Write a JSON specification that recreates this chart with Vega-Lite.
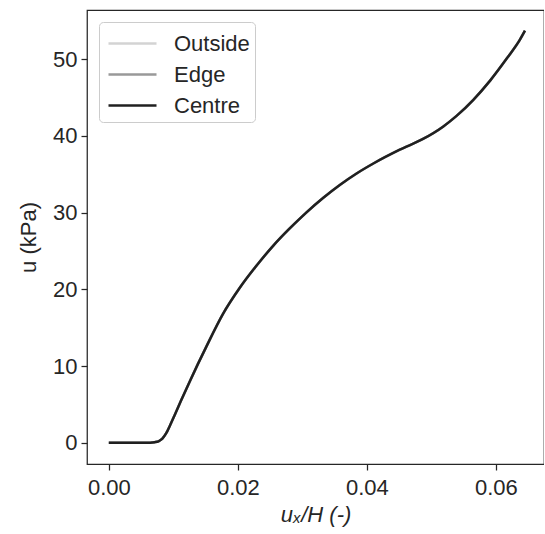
{
  "$schema": "https://vega.github.io/schema/vega-lite/v6.json",
  "autosize": "none",
  "padding": {"left": 87, "top": 10, "right": 0, "bottom": 70},
  "width": 457,
  "height": 454,
  "background": "white",
  "config": {
    "font": "Liberation Sans",
    "view": {"stroke": "#262626", "strokeWidth": 1.25},
    "axis": {
      "domain": false,
      "grid": false,
      "ticks": true,
      "tickColor": "#262626",
      "tickSize": 6,
      "tickWidth": 1.25,
      "labelColor": "#262626",
      "labelFontSize": 22,
      "labelFont": "Liberation Sans",
      "titleFont": "Liberation Sans",
      "titleFontSize": 22,
      "titleFontWeight": "normal",
      "titleColor": "#262626"
    }
  },
  "data": {
    "values": [
      {"x": 0.0, "Outside": 0.0, "Edge": 0.0, "Centre": 0.0},
      {"x": 0.004, "Outside": 0.0, "Edge": 0.0, "Centre": 0.0},
      {"x": 0.0064, "Outside": 0.02, "Edge": 0.02, "Centre": 0.02},
      {"x": 0.0071, "Outside": 0.08, "Edge": 0.08, "Centre": 0.08},
      {"x": 0.0077, "Outside": 0.2, "Edge": 0.2, "Centre": 0.2},
      {"x": 0.0083, "Outside": 0.55, "Edge": 0.55, "Centre": 0.55},
      {"x": 0.0089, "Outside": 1.25, "Edge": 1.25, "Centre": 1.25},
      {"x": 0.0095, "Outside": 2.3, "Edge": 2.3, "Centre": 2.3},
      {"x": 0.0102, "Outside": 3.6, "Edge": 3.6, "Centre": 3.6},
      {"x": 0.0112, "Outside": 5.5, "Edge": 5.5, "Centre": 5.5},
      {"x": 0.0126, "Outside": 8.1, "Edge": 8.1, "Centre": 8.1},
      {"x": 0.0151, "Outside": 12.5, "Edge": 12.5, "Centre": 12.5},
      {"x": 0.0177, "Outside": 16.8, "Edge": 16.8, "Centre": 16.8},
      {"x": 0.0203, "Outside": 20.2, "Edge": 20.2, "Centre": 20.2},
      {"x": 0.0231, "Outside": 23.3, "Edge": 23.3, "Centre": 23.3},
      {"x": 0.0255, "Outside": 25.7, "Edge": 25.7, "Centre": 25.7},
      {"x": 0.028, "Outside": 27.9, "Edge": 27.9, "Centre": 27.9},
      {"x": 0.0306, "Outside": 30.0, "Edge": 30.0, "Centre": 30.0},
      {"x": 0.0332, "Outside": 31.9, "Edge": 31.9, "Centre": 31.9},
      {"x": 0.0358, "Outside": 33.6, "Edge": 33.6, "Centre": 33.6},
      {"x": 0.0384, "Outside": 35.1, "Edge": 35.1, "Centre": 35.1},
      {"x": 0.041, "Outside": 36.4, "Edge": 36.4, "Centre": 36.4},
      {"x": 0.0451, "Outside": 38.2, "Edge": 38.2, "Centre": 38.2},
      {"x": 0.0487, "Outside": 39.6, "Edge": 39.6, "Centre": 39.6},
      {"x": 0.0518, "Outside": 41.2, "Edge": 41.2, "Centre": 41.2},
      {"x": 0.0539, "Outside": 42.6, "Edge": 42.6, "Centre": 42.6},
      {"x": 0.0565, "Outside": 44.7, "Edge": 44.7, "Centre": 44.7},
      {"x": 0.0591, "Outside": 47.2, "Edge": 47.2, "Centre": 47.2},
      {"x": 0.0617, "Outside": 50.1, "Edge": 50.1, "Centre": 50.1},
      {"x": 0.0637, "Outside": 52.5, "Edge": 52.5, "Centre": 52.5},
      {"x": 0.0645, "Outside": 53.7, "Edge": 53.7, "Centre": 53.7}
    ]
  },
  "transform": [
    {"fold": ["Outside", "Edge", "Centre"], "as": ["series", "u"]}
  ],
  "mark": {"type": "line", "strokeWidth": 2.5, "interpolate": "monotone"},
  "encoding": {
    "x": {
      "field": "x",
      "type": "quantitative",
      "scale": {"domain": [-0.00338, 0.06745], "nice": false, "zero": false},
      "axis": {"values": [0, 0.02, 0.04, 0.06], "format": ".2f", "title": "uₓ/H (-)", "titleFontStyle": "italic", "labelPadding": 7, "titlePadding": 6}
    },
    "y": {
      "field": "u",
      "type": "quantitative",
      "scale": {"domain": [-2.76, 56.4], "nice": false, "zero": false},
      "axis": {"values": [0, 10, 20, 30, 40, 50], "title": "u (kPa)", "labelPadding": 4, "titlePadding": 12}
    },
    "color": {
      "field": "series",
      "type": "nominal",
      "scale": {"domain": ["Outside", "Edge", "Centre"], "range": ["#d3d3d3", "#999999", "#202020"]},
      "legend": {
        "title": null,
        "orient": "top-left",
        "offset": 12,
        "symbolType": "M-0.8,0H2.4",
        "symbolSize": 900,
        "symbolStrokeWidth": 2.5,
        "labelFontSize": 22,
        "labelColor": "#262626",
        "labelFont": "Liberation Sans",
        "labelOffset": 37,
        "rowPadding": 3,
        "padding": 5,
        "strokeColor": "#cccccc",
        "cornerRadius": 4,
        "fillColor": "white"
      }
    },
    "order": {"field": "series", "sort": "descending"}
  }
}
